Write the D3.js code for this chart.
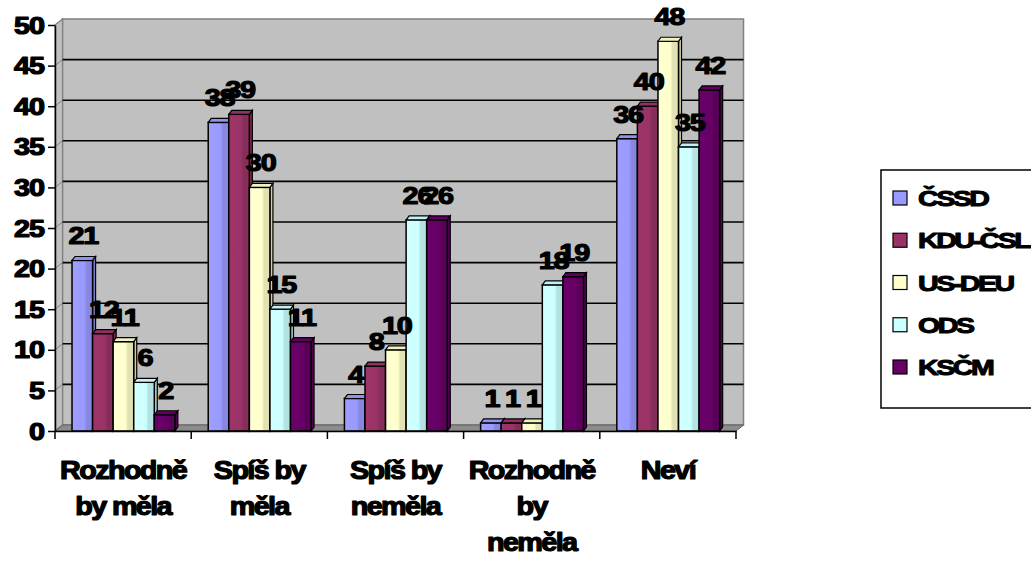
<!DOCTYPE html>
<html>
<head>
<meta charset="utf-8">
<script src="https://cdn.jsdelivr.net/npm/d3@7"></script>
<style>
  html, body { margin: 0; padding: 0; background: #ffffff; }
  svg { display: block; }
  text { font-family: "Liberation Sans", Arial, sans-serif; font-weight: bold; fill: #000; stroke: #000; stroke-width: 1.2px; stroke-linejoin: round; }
</style>
</head>
<body>
<svg id="chart" width="1031" height="563"></svg>
<script>
// ---------- data ----------
const categories = [
  ["Rozhodně", "by měla"],
  ["Spíš by", "měla"],
  ["Spíš by", "neměla"],
  ["Rozhodně", "by", "neměla"],
  ["Neví"]
];
const seriesNames = ["ČSSD", "KDU-ČSL", "US-DEU", "ODS", "KSČM"];
const seriesColors = ["#9999FF", "#993366", "#FFFFCC", "#CCFFFF", "#660066"];
const valuesCSSD  = [21, 38, 4, 1, 36];
const valuesKDU   = [12, 39, 8, 1, 40];
const valuesUS    = [11, 30, 10, 1, 48];
const valuesODS   = [6, 15, 26, 18, 35];
const valuesKSCM  = [2, 11, 26, 19, 42];
const seriesValues = [valuesCSSD, valuesKDU, valuesUS, valuesODS, valuesKSCM];
const yTicks = [0, 5, 10, 15, 20, 25, 30, 35, 40, 45, 50];

// ---------- layout ----------
const svg = d3.select("#chart");
const catKeys = categories.map(c => c.join(" "));
const x = d3.scaleBand().domain(catKeys).range([55, 736]).paddingInner(0).paddingOuter(0);
const y = d3.scaleLinear().domain([0, 50]).range([431, 25]);
const bw = x.bandwidth();
const xs = d3.scaleBand().domain(seriesNames).range([bw * 0.125, bw * 0.88]);
const DX = 7.5, DY = -6;      // wall depth
const CX = 3, CY = -4;        // bar cap depth
const x0 = x.range()[0], x1 = x.range()[1];
const yBase = y(0), yTop = y(50);

// ---------- walls ----------
const walls = svg.append("g");
walls.append("rect")
  .attr("x", x0 + DX).attr("y", yTop + DY)
  .attr("width", x1 - x0).attr("height", yBase - yTop)
  .attr("fill", "#C0C0C0").attr("stroke", "#808080").attr("stroke-width", 1.5);
walls.append("path")
  .attr("d", `M${x0},${yTop} L${x0 + DX},${yTop + DY} L${x0 + DX},${yBase + DY} L${x0},${yBase} Z`)
  .attr("fill", "#C0C0C0").attr("stroke", "#808080").attr("stroke-width", 1.2);
yTicks.filter(v => v > 0 && v < 50).forEach(v => {
  walls.append("line")
    .attr("x1", x0 + DX).attr("x2", x1 + DX)
    .attr("y1", y(v) + DY).attr("y2", y(v) + DY)
    .attr("stroke", "#000").attr("stroke-width", 1.6);
  walls.append("line")
    .attr("x1", x0).attr("x2", x0 + DX)
    .attr("y1", y(v)).attr("y2", y(v) + DY)
    .attr("stroke", "#808080").attr("stroke-width", 1);
});
walls.append("path")
  .attr("d", `M${x0},${yBase} L${x0 + DX},${yBase + DY} L${x1 + DX},${yBase + DY} L${x1},${yBase} Z`)
  .attr("fill", "#8C8C8C").attr("stroke", "#606060").attr("stroke-width", 1);

// ---------- gradients ----------
const defs = svg.append("defs");
seriesColors.forEach((c, i) => {
  const g = defs.append("linearGradient").attr("id", "grad" + i)
    .attr("x1", "0%").attr("x2", "100%").attr("y1", "0%").attr("y2", "0%");
  const base = d3.color(c);
  const dark = base.darker(0.35);
  g.append("stop").attr("offset", "0%").attr("stop-color", base.brighter(0.1));
  g.append("stop").attr("offset", "60%").attr("stop-color", base);
  g.append("stop").attr("offset", "72%").attr("stop-color", dark);
  g.append("stop").attr("offset", "100%").attr("stop-color", dark);
});

// ---------- bars ----------
const bars = svg.append("g");
categories.forEach((cat, ci) => {
  seriesNames.forEach((s, si) => {
    const v = seriesValues[si][ci];
    const bx = x(catKeys[ci]) + xs(s);
    const w = xs.bandwidth();
    const ty = y(v);
    const col = d3.color(seriesColors[si]);
    bars.append("path")
      .attr("d", `M${bx + w},${ty} L${bx + w + CX},${ty + CY} L${bx + w + CX},${yBase + CY} L${bx + w},${yBase} Z`)
      .attr("fill", col.darker(0.6)).attr("stroke", "#000").attr("stroke-width", 1.2);
    bars.append("rect")
      .attr("x", bx).attr("y", ty).attr("width", w).attr("height", yBase - ty)
      .attr("fill", `url(#grad${si})`).attr("stroke", "#000").attr("stroke-width", 1.5);
    bars.append("path")
      .attr("d", `M${bx},${ty} L${bx + CX},${ty + CY} L${bx + w + CX},${ty + CY} L${bx + w},${ty} Z`)
      .attr("fill", col.darker(0.15)).attr("stroke", "#000").attr("stroke-width", 1.2);
  });
});

// ---------- axes ----------
const yAxis = svg.append("g").attr("transform", `translate(${x0},0)`)
  .call(d3.axisLeft(y).tickValues(yTicks).tickSize(7).tickSizeOuter(0));
yAxis.select(".domain").attr("stroke", "#000").attr("stroke-width", 1.5);
yAxis.selectAll(".tick line").attr("stroke", "#000").attr("stroke-width", 1.5);
yAxis.selectAll(".tick text").remove();
yTicks.forEach(v => {
  svg.append("text")
    .attr("transform", `translate(44,${y(v) + 8.5}) scale(1.2,1)`)
    .attr("text-anchor", "end")
    .style("font-size", "24px")
    .style("letter-spacing", "-0.8px")
    .text(v);
});

const xAxis = svg.append("g").attr("transform", `translate(0,${yBase})`)
  .call(d3.axisBottom(x).tickSize(0).tickSizeOuter(0));
xAxis.select(".domain").attr("stroke", "#000").attr("stroke-width", 1.5);
xAxis.selectAll(".tick").remove();
const bounds = catKeys.map(k => x(k)).concat([x1]);
bounds.forEach(b => {
  xAxis.append("line").attr("x1", b).attr("x2", b).attr("y1", 0).attr("y2", 8)
    .attr("stroke", "#000").attr("stroke-width", 1.5);
});
categories.forEach((cat, ci) => {
  const cx = x(catKeys[ci]) + bw / 2;
  cat.forEach((line, li) => {
    svg.append("text")
      .attr("transform", `translate(${cx},${479 + li * 36}) scale(1.15,1)`)
      .attr("text-anchor", "middle")
      .style("font-size", "25px")
      .style("letter-spacing", "-1.4px")
      .text(line);
  });
});

// ---------- data labels ----------
categories.forEach((cat, ci) => {
  seriesNames.forEach((s, si) => {
    const v = seriesValues[si][ci];
    const cx = x(catKeys[ci]) + xs(s) + xs.bandwidth() / 2 + 1;
    svg.append("text")
      .attr("transform", `translate(${cx},${y(v) - 16}) scale(1.2,1)`)
      .attr("text-anchor", "middle")
      .style("font-size", "24px")
      .style("letter-spacing", "-1px")
      .text(v);
  });
});

// ---------- legend ----------
const legend = svg.append("g");
legend.append("rect")
  .attr("x", 881).attr("y", 170).attr("width", 200).attr("height", 238)
  .attr("fill", "#fff").attr("stroke", "#000").attr("stroke-width", 1.5);
const ly = d3.scalePoint().domain(seriesNames).range([198, 367]);
seriesNames.forEach((s, i) => {
  legend.append("rect")
    .attr("x", 893).attr("y", ly(s) - 7).attr("width", 14).attr("height", 14)
    .attr("fill", seriesColors[i]).attr("stroke", "#000").attr("stroke-width", 1.2);
  legend.append("text")
    .attr("transform", `translate(918,${ly(s) + 8}) scale(1.3,1)`)
    .style("font-size", "22px")
    .style("letter-spacing", "-1.9px")
    .style("stroke-width", "1px")
    .text(s);
});
</script>
</body>
</html>
